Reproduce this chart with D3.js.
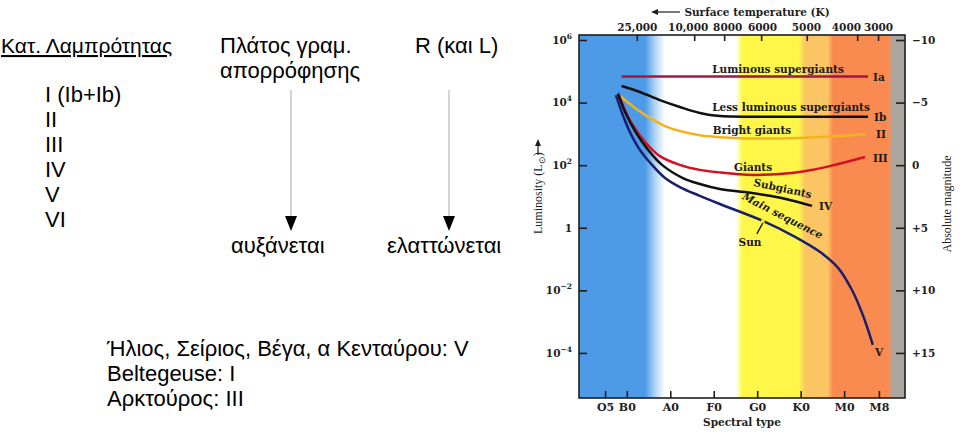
<!DOCTYPE html>
<html><head><meta charset="utf-8">
<script src="https://cdn.jsdelivr.net/npm/d3@7"></script>
<style>body{margin:0;background:#fff}svg{display:block}</style>
</head><body><svg id="c" width="960" height="432"></svg>
<script>
// ---------- data ----------
const spectralTypes = ["O5","B0","A0","F0","G0","K0","M0","M8"];
const spectralPos   = [5, 10, 20, 30, 40, 50, 60, 68];
const tempLabels   = ["25,000","10,000","8000","6000","5000","4000","3000"];
const tempLabelPos = [12.3, 24.0, 33.1, 41.1, 51.2, 60.4, 67.8];
const tempTickPos  = [12.3, 25.5, 32.4, 40.9, 51.4, 63.0, 67.8];
const lumTicks  = [6, 4, 2, 0, -2, -4];
const lumExp    = ["6","4","2","","−2","−4"];
const magTicks  = [-10, -5, 0, 5, 10, 15];
const magLabels = ["−10","−5","0","+5","+10","+15"];

const bandStops  = [-1, 14.2, 16.3, 18.8, 35.1, 36.6, 49.6, 51.0, 56.2, 57.4, 70.3, 71.0, 74];
const bandColors = ["#4d9ae6","#4d9ae6","#a9d1f4","#ffffff","#ffffff","#fff748","#fff64a","#fcc563","#fcc563","#fa8b50","#fa8b50","#aba59e","#aba59e"];

const classNames  = ["Ia","Ib","II","III","IV","V"];
const classTitles = ["Luminous supergiants","Less luminous supergiants","Bright giants","Giants","Subgiants","Main sequence"];

const iaS = [8.8, 65.5];
const iaL = [4.83, 4.83];
const ibS = [8.8, 13.0, 17.6, 22.2, 26.8, 31.4, 40.6, 65.5];
const ibL = [4.53, 4.34, 4.08, 3.86, 3.67, 3.57, 3.55, 3.55];
const iiS = [8.4, 11.9, 15.3, 18.8, 22.2, 26.8, 33.7, 40.6, 49.8, 59.0, 65.0];
const iiL = [4.21, 3.83, 3.51, 3.25, 3.09, 2.96, 2.88, 2.85, 2.87, 2.93, 3.00];
const iiiS = [8.0, 9.35, 11.2, 14.2, 17.6, 22.2, 26.8, 31.4, 39.0, 45.2, 50.5, 56.7, 64.8];
const iiiL = [4.31, 3.83, 3.32, 2.74, 2.29, 2.01, 1.85, 1.77, 1.69, 1.72, 1.80, 1.97, 2.26];
const ivS = [8.0, 9.6, 11.9, 14.9, 18.1, 22.9, 26.8, 31.4, 37.2, 42.9, 47.5, 52.6];
const ivL = [4.27, 3.70, 3.09, 2.49, 2.01, 1.59, 1.40, 1.24, 1.14, 1.02, 0.89, 0.70];
const vS = [7.5, 8.9, 10.7, 13.0, 15.8, 18.8, 22.2, 26.8, 31.4, 41.3, 48.7, 54.4, 58.6, 61.8, 64.3, 66.6];
const vL = [4.24, 3.67, 3.06, 2.49, 2.01, 1.59, 1.30, 1.02, 0.76, 0.22, -0.29, -0.77, -1.28, -1.99, -2.79, -3.74];
const sunS = 41.3, sunL = 0.22;

// ---------- drawing ----------
const svg = d3.select("#c");
const L = 579, R = 905, T = 35, B = 398;
const x = d3.scaleLinear().domain([-1, 74]).range([L, R]);
const y = d3.scaleLinear().domain([-5.44, 6.16]).range([B, T]);
const mag = d3.scaleLinear().domain([-10.4, 18.6]).range([T, B]);
const serifB = "'DejaVu Serif',serif";
const serif = "'Liberation Serif','Times New Roman',serif";
const sans = "'Liberation Sans',Arial,sans-serif";
const ink = "#1e1e1e";

// background bands
const defs = svg.append("defs");
const grad = defs.append("linearGradient").attr("id","bands")
  .attr("gradientUnits","userSpaceOnUse").attr("x1",L).attr("x2",R).attr("y1",0).attr("y2",0);
bandStops.forEach((s,i)=>grad.append("stop")
  .attr("offset",(x(s)-L)/(R-L)).attr("stop-color",bandColors[i]));
svg.append("rect").attr("x",L).attr("y",T).attr("width",R-L).attr("height",B-T).attr("fill","url(#bands)");

// curves
const line = d3.line().x(d=>x(d[0])).y(d=>y(d[1])).curve(d3.curveCatmullRom.alpha(0.5));
const series = [
  [iaS, iaL, "#a0183f"],
  [ibS, ibL, "#111111"],
  [iiS, iiL, "#f2b41e"],
  [iiiS, iiiL, "#d3121f"],
  [ivS, ivL, "#111111"],
  [vS, vL, "#17206e"]
];
series.forEach(([s,l,c])=>{
  svg.append("path").datum(s.map((v,i)=>[v,l[i]]))
    .attr("d",line).attr("fill","none").attr("stroke",c).attr("stroke-width",2.5);
});

// sun
svg.append("line").attr("x1",x(sunS)).attr("y1",y(sunL)+2).attr("x2",x(sunS)-6).attr("y2",y(sunL)+13)
  .attr("stroke","#111").attr("stroke-width",1.3);
svg.append("circle").attr("cx",x(sunS)).attr("cy",y(sunL)).attr("r",2).attr("fill","#ffe800");

// frame
svg.append("rect").attr("x",L).attr("y",T).attr("width",R-L).attr("height",B-T)
  .attr("fill","none").attr("stroke",ink).attr("stroke-width",1.6);

function styleAxis(g){
  g.select(".domain").remove();
  g.selectAll(".tick line").attr("stroke",ink).attr("stroke-width",1.6);
  g.selectAll(".tick text").attr("fill",ink).attr("font-family",serifB).attr("font-weight","bold").attr("font-size",10.5);
}
// left axis
const gl = svg.append("g").attr("transform",`translate(${L},0)`)
  .call(d3.axisLeft(y).tickValues(lumTicks).tickSize(-8).tickPadding(7).tickFormat(()=>"")).call(styleAxis);
gl.selectAll(".tick text").each(function(d,i){
  const t = d3.select(this);
  if(lumExp[i]===""){ t.text("1"); return; }
  t.append("tspan").text("10");
  t.append("tspan").attr("dy",-5).attr("font-size",7.5).text(lumExp[i]);
});
// right axis
svg.append("g").attr("transform",`translate(${R},0)`)
  .call(d3.axisRight(mag).tickValues(magTicks).tickSize(-9).tickPadding(7).tickFormat((d,i)=>magLabels[i])).call(styleAxis);
// top axis: ticks and labels
svg.append("g").attr("transform",`translate(0,${T})`)
  .call(d3.axisTop(x).tickValues(tempTickPos).tickSize(-6).tickFormat(()=>"")).call(styleAxis);
svg.append("g").attr("transform",`translate(0,${T})`)
  .call(d3.axisTop(x).tickValues(tempLabelPos).tickSize(0).tickPadding(4).tickFormat((d,i)=>tempLabels[i])).call(styleAxis);
// bottom axis
svg.append("g").attr("transform",`translate(0,${B})`)
  .call(d3.axisBottom(x).tickValues(spectralPos).tickSize(-7).tickPadding(5).tickFormat((d,i)=>spectralTypes[i])).call(styleAxis)
  .selectAll(".tick text").attr("font-size",11);

// axis titles
svg.append("text").attr("x",757).attr("y",16).attr("text-anchor","middle")
  .attr("font-family",serifB).attr("font-weight","bold").attr("font-size",10.5).attr("fill",ink).text("Surface temperature (K)");
svg.append("line").attr("x1",655).attr("x2",680).attr("y1",12).attr("y2",12).attr("stroke",ink).attr("stroke-width",1.2);
svg.append("path").attr("d","M651,12 L658,9 L658,15 Z").attr("fill",ink);
svg.append("text").attr("x",742).attr("y",426).attr("text-anchor","middle")
  .attr("font-family",serifB).attr("font-weight","bold").attr("font-size",10.5).attr("fill",ink).text("Spectral type");
const lt = svg.append("text").attr("transform","translate(542,234) rotate(-90)")
  .attr("font-family",serif).attr("font-size",12).attr("fill",ink);
lt.append("tspan").text("Luminosity (L");
lt.append("tspan").attr("font-size",9).attr("dy",3).text("⊙");
lt.append("tspan").attr("dy",-3).text(")");
svg.append("line").attr("x1",538).attr("x2",538).attr("y1",155).attr("y2",144).attr("stroke",ink).attr("stroke-width",1.2);
svg.append("path").attr("d","M538,139 L535,146 L541,146 Z").attr("fill",ink);
svg.append("text").attr("transform","translate(951,204) rotate(-90)").attr("text-anchor","middle")
  .attr("font-family",serif).attr("font-size",12).attr("fill",ink).text("Absolute magnitude");

// class labels
function lab(t,xp,yp,opts={}){
  const e = svg.append("text").attr("x",xp).attr("y",yp).text(t)
    .attr("font-family",serifB).attr("font-weight","bold").attr("font-size",opts.fs||10.5).attr("fill","#1a1a1a")
    .attr("text-anchor",opts.anchor||"middle");
  if(opts.rot) e.attr("transform",`rotate(${opts.rot},${xp},${yp})`);
  if(opts.italic) e.attr("font-style","italic");
  return e;
}
lab(classTitles[0], 778, 73);
lab(classTitles[1], 791, 111);
lab(classTitles[2], 752, 134);
lab(classTitles[3], 753, 171);
lab(classTitles[4], 782, 192, {rot:12});
lab(classTitles[5], 781, 219, {rot:27, italic:true});
lab("Sun", 750, 246);
lab(classNames[0], 873, 81, {anchor:"start"});
lab(classNames[1], 874, 121, {anchor:"start"});
lab(classNames[2], 876, 138, {anchor:"start"});
lab(classNames[3], 873, 162, {anchor:"start"});
lab(classNames[4], 819, 210, {anchor:"start"});
lab(classNames[5], 875, 356, {anchor:"start"});

// ---------- left text panel ----------
function txt(t,xp,yp,fs=22){
  return svg.append("text").attr("x",xp).attr("y",yp).attr("font-family",sans).attr("font-size",fs).attr("fill","#000").text(t);
}
txt("Κατ. Λαμπρότητας",1,53,21).attr("text-decoration","underline");
txt("Πλάτος γραμ.",220,53);
txt("απορρόφησης",220,78);
txt("R (και L)",415,53);
const romans = ["I (Ib+Ib)","II","III","IV","V","VI"];
romans.forEach((r,i)=>txt(r,45,102+i*25));
[291,449].forEach(xp=>{
  svg.append("line").attr("x1",xp).attr("x2",xp).attr("y1",90).attr("y2",218).attr("stroke","#aaa").attr("stroke-width",1);
  svg.append("path").attr("d",`M${xp-6},216 L${xp+6},216 L${xp},231 Z`).attr("fill","#000");
});
txt("αυξάνεται",231,253);
txt("ελαττώνεται",387,253);
txt("Ήλιος, Σείριος, Βέγα, α Κενταύρου: V",107,356);
txt("Beltegeuse: I",107,381);
txt("Αρκτούρος: III",107,406);
</script></body></html>
